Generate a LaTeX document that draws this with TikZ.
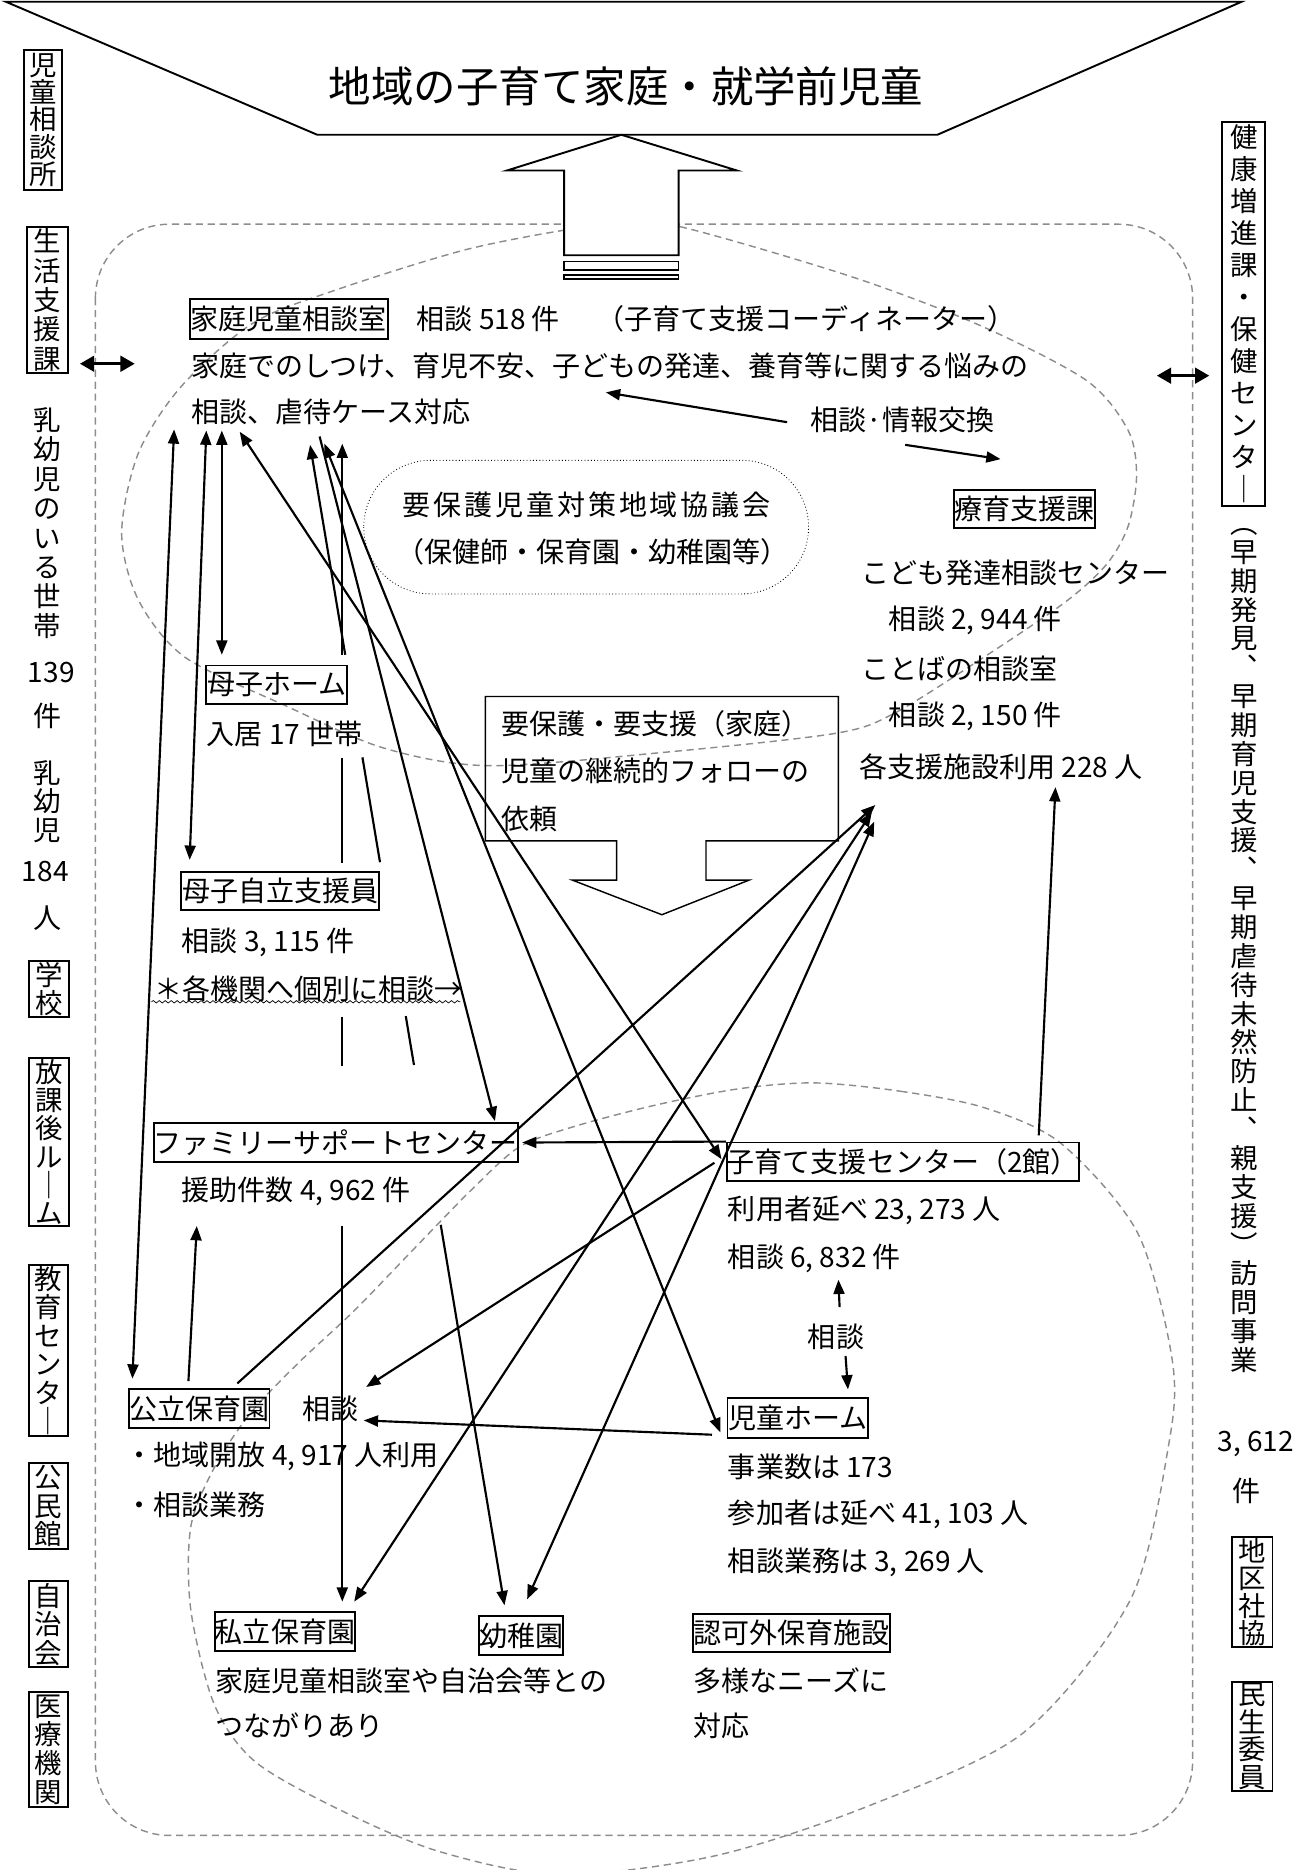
\documentclass[tikz,border=0pt]{standalone}
\usepackage{fontspec}
\setmainfont{Noto Sans CJK JP}
\usetikzlibrary{arrows.meta,calc,decorations.pathmorphing}
\lineskiplimit=-20pt
\newcommand\fs{\fontsize{11.75pt}{14pt}\selectfont}
\newcommand\spc[1]{\spcA#1\relax}
\def\spcA#1{\ifx\relax#1\else#1\hspace{1.2pt}\expandafter\spcA\fi}
\tikzset{
  t/.style={font=\fs, inner sep=0pt, anchor=west},
  tc/.style={font=\fs, inner sep=0pt},
  bx/.style={draw, line width=0.8pt, inner sep=0pt, font=\fs},
  vt/.style={align=center, inner sep=0pt, font={\fontsize{11.5pt}{#1}\selectfont}},
  vbx/.style={vt=#1, draw, line width=0.8pt},
  cn/.style={line width=0.9pt},
  dsh/.style={draw=black!45, line width=0.6pt, dash pattern=on 3pt off 2pt},
  >={Triangle[length=6pt,width=4.6pt]},
  bigtip/.style={line width=1.3pt, {Triangle[length=6pt,width=6.5pt]}-{Triangle[length=6pt,width=6.5pt]}},
}
\begin{document}
\begin{tikzpicture}[x=0.5pt, y=-0.5pt]
\useasboundingbox (0,0) rectangle (1095,1568);

% dashed surroundings
\draw[dsh, rounded corners=31pt] (80,188) rectangle (1000,1539);
\draw[dsh] plot[smooth cycle] coordinates {(520,188) (570,190) (714,232) (822,273) (911,319) (946,361) (953,399) (946,441) (928,473) (893,505) (822,553) (750,598) (700,615) (555,631) (409,642) (321,627) (240,592) (155,551) (116,503) (102,447) (116,380) (152,324) (212,271) (282,243) (388,210) (473,193)};
\draw[dsh] plot[smooth cycle] coordinates {(683,908) (755,915) (826,929) (890,959) (954,1034) (983,1141) (980,1211) (948,1341) (858,1453) (729,1514) (600,1556) (470,1572) (370,1553) (290,1520) (215,1478) (180,1430) (160,1350) (160,1280) (180,1230) (210,1185) (250,1143) (297,1099) (354,1040) (395,998) (435,962) (480,945) (548,927) (619,913)};

% title shape
\draw[line width=0.8pt] (5,1.5) -- (1041,1.5) -- (786,113) -- (266,113) -- cycle;
\node[font={\fontsize{17.8pt}{20pt}\selectfont}, inner sep=0pt] (title) at (525,72) {地域の子育て家庭・就学前児童};

% big up arrow
\draw[line width=0.8pt, fill=white] (473,214) -- (473,143) -- (425,143) -- (521,113) -- (618,143) -- (569,143) -- (569,214) -- cycle;
\draw[line width=0.6pt, fill=white] (473,219.5) rectangle (569,226.5);
\draw[line width=0.6pt, fill=white] (473,230.5) rectangle (569,234);

% left column
\node[vbx=11.5pt, minimum width=16pt, minimum height=58.5pt] (jso) at (36,100.5) {児\\童\\相\\談\\所};
\node[vbx=12.3pt, minimum width=17pt, minimum height=61.5pt] (seikatsu) at (40,251.5) {生\\活\\支\\援\\課};
\node[vt=12.35pt] (nyu1) at (40,438.5) {乳\\幼\\児\\の\\い\\る\\世\\帯};
\node[tc] (n139) at (43,564) {139};
\node[tc] (ken1) at (40,600) {件};
\node[vt=12pt] (nyu2) at (40,672) {乳\\幼\\児};
\node[tc] (n184) at (38,731) {184};
\node[tc] (hito) at (40,770) {人};
\node[vbx=11.75pt, minimum width=17pt, minimum height=23.5pt] (gakkou) at (41,829.5) {学\\校};
\node[vbx=11.75pt, minimum width=17pt, minimum height=70.5pt] (houkago) at (41,957.5) {放\\課\\後\\ル\\｜\\ム};
\node[vbx=11.9pt, minimum width=16.5pt, minimum height=71.5pt] (kyouiku) at (40.5,1132.5) {教\\育\\セ\\ン\\タ\\｜};
\node[vbx=12pt, minimum width=16.5pt, minimum height=36pt] (koumin) at (40.5,1263) {公\\民\\館};
\node[vbx=12pt, minimum width=16.5pt, minimum height=36pt] (jichi) at (40.5,1362) {自\\治\\会};
\node[vbx=12pt, minimum width=16.5pt, minimum height=48pt] (iryou) at (40.5,1467) {医\\療\\機\\関};

% right column
\node[vbx=13.4pt, minimum width=18pt, minimum height=161pt] (kenko) at (1043,263) {健\\康\\増\\進\\課\\・\\保\\健\\セ\\ン\\タ\\｜};
\node[vt=12.1pt] (houmon) at (1043,797) {︵\\早\\期\\発\\見\\︑\\早\\期\\育\\児\\支\\援\\︑\\早\\期\\虐\\待\\未\\然\\防\\止\\︑\\親\\支\\援\\︶\\訪\\問\\事\\業};
\node[tc] (n3612) at (1053,1211) {3, 612};
\node[tc] (ken2) at (1045,1250) {件};
\node[vbx=11.5pt, minimum width=17pt, minimum height=46pt] (chiku) at (1050,1335) {地\\区\\社\\協};
\node[vbx=11.5pt, minimum width=17pt, minimum height=46pt] (minsei) at (1050,1456) {民\\生\\委\\員};

% 家庭児童相談室
\node[bx, minimum width=83pt, minimum height=16.5pt] (soudan) at (242,267.5) {家庭児童相談室};
\node[t] (s518) at (349,267) {相談 518 件};
\node[t] (coord) at (500,267) {（子育て支援コーディネーター）};
\node[t] (shitsuke) at (160,307) {家庭でのしつけ、育児不安、子どもの発達、養育等に関する悩みの};
\node[t] (gyakutai) at (160,345) {相談、虐待ケース対応};
\node[t] (joho) at (679,352) {相談·情報交換};

% 要保護児童対策地域協議会
\draw[densely dotted, line width=0.35pt, rounded corners=28pt] (305,386) rectangle (678,498);
\node[tc] (kyougi1) at (492,423) {\spc{要保護児童対策地域協議会}};
\node[tc] (kyougi2) at (497,463) {（保健師・保育園・幼稚園等）};

% 療育支援課
\node[bx, minimum width=59pt, minimum height=16pt] (ryouiku) at (859,427) {療育支援課};
\node[t] (kodomo) at (722,480) {こども発達相談センター};
\node[t] (r2944) at (745,520) {相談 2, 944 件};
\node[t] (kotoba) at (722,561) {ことばの相談室};
\node[t] (r2150) at (745,601) {相談 2, 150 件};
\node[t] (r228) at (720,643) {各支援施設利用 228 人};

% callout
\draw[line width=0.6pt] (407,584) -- (703,584) -- (703,705) -- (592,705) -- (592,738) -- (628,738) -- (555,767) -- (480,738) -- (517,738) -- (517,705) -- (407,705) -- cycle;
\node[t] (c1) at (420,607) {要保護・要支援（家庭）};
\node[t] (c2) at (420,646) {児童の継続的フォローの};
\node[t] (c3) at (420,687) {依頼};

% 母子
\node[bx, minimum width=59pt, minimum height=16pt] (boshiH) at (232,574) {母子ホーム};
\node[t] (nyukyo) at (173,615) {入居 17 世帯};
\node[bx, minimum width=83pt, minimum height=16pt] (boshiJ) at (235,747) {母子自立支援員};
\node[t] (b3115) at (152,790) {相談 3, 115 件};
\node[t] (kakukikan) at (129,829) {＊各機関へ個別に相談→};
\draw[decorate, decoration={snake, amplitude=0.5pt, segment length=2.5pt}, line width=0.3pt] (127,840) -- (386,840);

% FSC
\node[bx, minimum width=152.5pt, minimum height=16pt] (fsc) at (281.5,958) {ファミリーサポートセンター};
\node[t] (f4962) at (152,999) {援助件数 4, 962 件};

% 子育て支援センター
\node[bx, minimum width=147pt, minimum height=16pt] (kosodate) at (757,974) {子育て支援センター（2館）};
\node[t] (k23273) at (610,1015) {利用者延べ 23, 273 人};
\node[t] (k6832) at (610,1055) {相談 6, 832 件};
\node[tc] (sd2) at (701,1121) {相談};

% 児童ホーム
\node[bx, minimum width=59pt, minimum height=17pt] (jidoH) at (669,1189) {児童ホーム};
\node[t] (j173) at (610,1230) {事業数は 173};
\node[t] (j41103) at (610,1270) {参加者は延べ 41, 103 人};
\node[t] (j3269) at (610,1310) {相談業務は 3, 269 人};

% 公立保育園
\node[bx, minimum width=59pt, minimum height=16pt] (kouritsu) at (167,1181) {公立保育園};
\node[t] (sd3) at (253,1181) {相談};
\node[t] (chiiki) at (105,1221) {・地域開放 4, 917 人利用};
\node[t] (sgyomu) at (105,1262) {・相談業務};

% bottom row
\node[bx, minimum width=59pt, minimum height=16pt] (shiritsu) at (239,1368) {私立保育園};
\node[bx, minimum width=35pt, minimum height=16.5pt] (youchien) at (437,1371.5) {幼稚園};
\node[bx, minimum width=82.5pt, minimum height=16pt] (ninka) at (663.5,1369) {認可外保育施設};
\node[t] (tsunagari1) at (180,1409) {家庭児童相談室や自治会等との};
\node[t] (tsunagari2) at (180,1447) {つながりあり};
\node[t] (tayou1) at (581,1409) {多様なニーズに};
\node[t] (tayou2) at (581,1447) {対応};

% ---------- connectors ----------
\coordinate (k1) at (146,360); \coordinate (e1) at (111,1156);
\coordinate (k2) at (173,361); \coordinate (e2) at (159,721);
\coordinate (k3) at (186,361); \coordinate (e3) at (186,549);
\coordinate (k4) at (201,362); \coordinate (e4) at (605,972);
\coordinate (k5) at (260,373); \coordinate (e5) at (423,1346);
\coordinate (k6) at (268,366); \coordinate (e6) at (415,940);
\coordinate (k7) at (272,372); \coordinate (e7) at (604,1201);
\coordinate (k8) at (287,372); \coordinate (e8) at (287,1343);

\draw[cn,<->] (k1) -- (e1);
\draw[cn,<->] (k2) -- (e2);
\draw[cn,<->] (k3) -- (e3);
\draw[cn,<->] (k4) -- (e4);
\draw[cn,->] (k6) -- (e6);
\draw[cn,<->] (k7) -- (e7);

\draw[cn,<-] (k5) -- ($(k5)!0.1809!(e5)$);
\draw[cn] ($(k5)!0.2693!(e5)$) -- ($(k5)!0.3597!(e5)$);
\draw[cn] ($(k5)!0.4923!(e5)$) -- ($(k5)!0.5344!(e5)$);
\draw[cn,->] ($(k5)!0.6722!(e5)$) -- (e5);

\draw[cn,<-] (k8) -- ($(k8)!0.1825!(e8)$);
\draw[cn] ($(k8)!0.2711!(e8)$) -- ($(k8)!0.3619!(e8)$);
\draw[cn] ($(k8)!0.4948!(e8)$) -- ($(k8)!0.5371!(e8)$);
\draw[cn,->] ($(k8)!0.6753!(e8)$) -- (e8);

% 相談・情報交換
\coordinate (j1) at (508,329); \coordinate (j2) at (660,354);
\coordinate (j3) at (759,373); \coordinate (j4) at (839,385);
\draw[cn,->] (j2) -- (j1);
\draw[cn,->] (j3) -- (j4);

% side double arrows
\coordinate (sa1) at (67,305); \coordinate (sa2) at (113,305);
\draw[bigtip] (sa1) -- (sa2);
\coordinate (ka1) at (970,315); \coordinate (ka2) at (1014,315);
\draw[bigtip] (ka1) -- (ka2);

% FSC <- 子育て
\draw[cn,->] (kosodate.north west) -- ($(fsc.east)+(3,0)$);
% 子育て -> 療育
\coordinate (ko1) at (871,952); \coordinate (ry1) at (885,660);
\draw[cn,->] (ko1) -- (ry1);
% to 療育 from 公立 / 私立 / 幼稚園
\coordinate (ry2) at (734,675); \coordinate (ry3) at (731,681); \coordinate (ry4) at (733,689);
\coordinate (ko2) at (199,1160); \coordinate (sh2) at (297,1343); \coordinate (yo2) at (442,1341);
\draw[cn,->] (ko2) -- (ry2);
\draw[cn,<->] (sh2) -- (ry3);
\draw[cn,<->] (yo2) -- (ry4);
% 子育て -> 公立 相談
\coordinate (ko3) at (599,975); \coordinate (sd3t) at (307,1163);
\draw[cn,->] (ko3) -- (sd3t);
% 児童ホーム -> 公立 相談
\coordinate (jh1) at (597,1203); \coordinate (sd3u) at (305,1191);
\draw[cn,->] (jh1) -- (sd3u);
% 公立 -> FSC
\coordinate (ko4) at (158,1158); \coordinate (fs4) at (165,1028);
\draw[cn,->] (ko4) -- (fs4);
% 相談 between 子育て and 児童ホーム
\coordinate (u1) at (704,1096); \coordinate (u2) at (703,1073);
\coordinate (d1) at (709,1137); \coordinate (d2) at (711,1165);
\draw[cn,->] (u1) -- (u2);
\draw[cn,->] (d1) -- (d2);
\end{tikzpicture}
\end{document}
